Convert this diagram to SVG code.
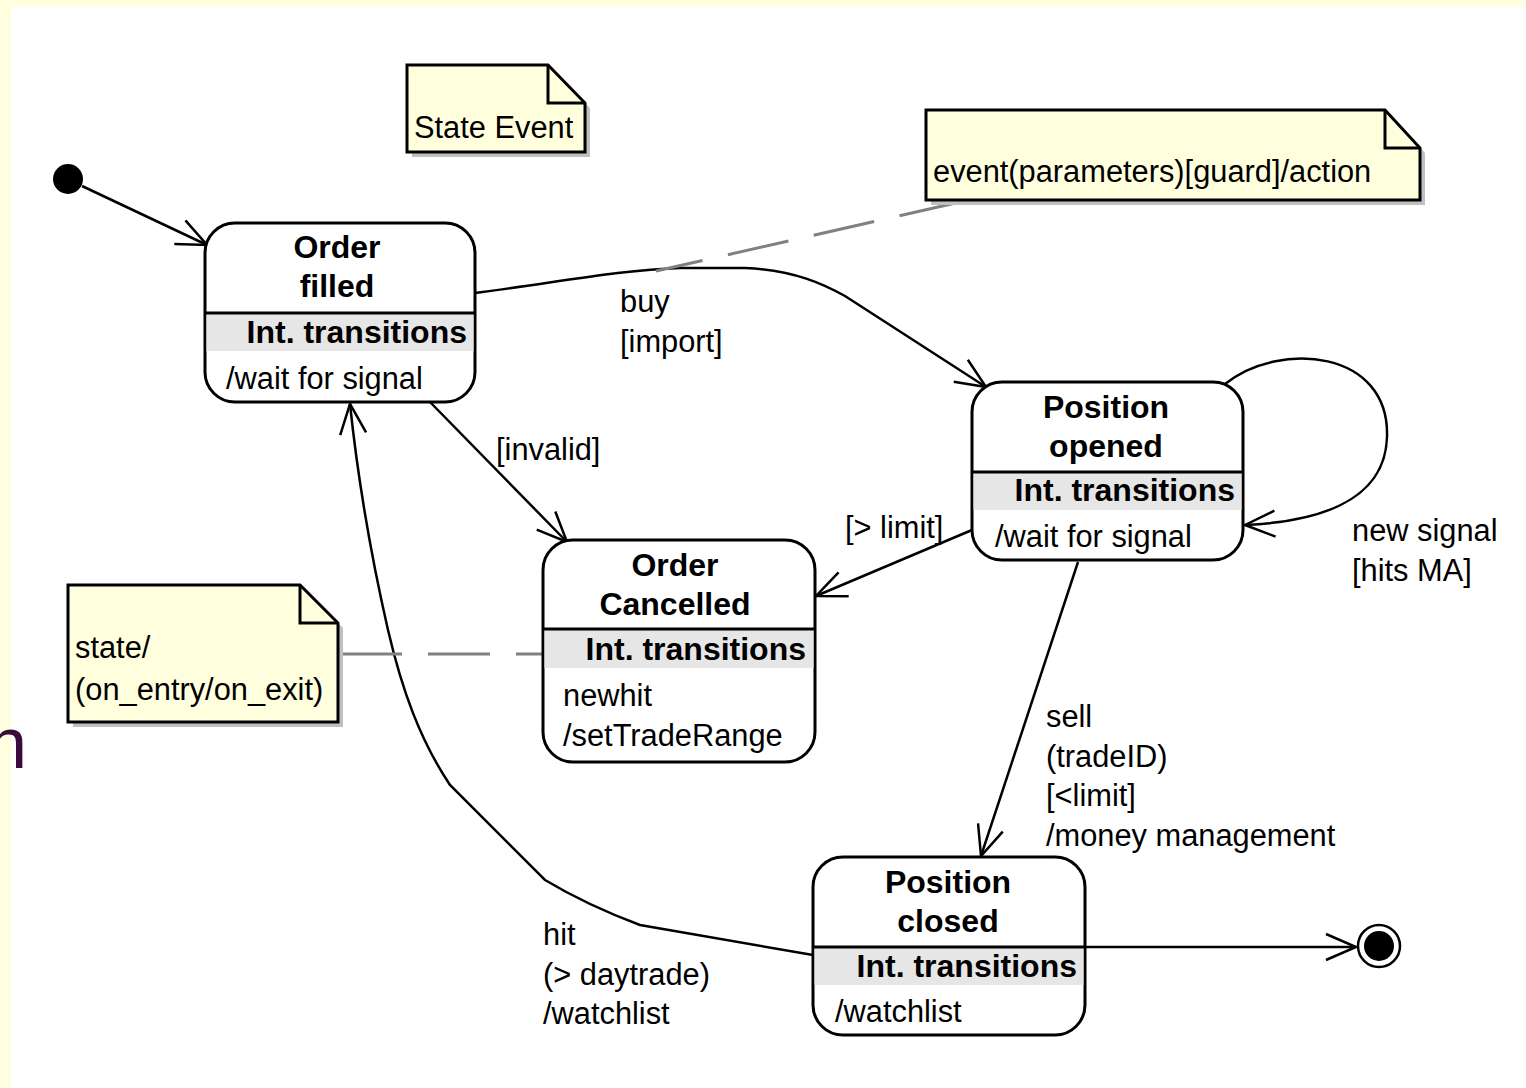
<svg xmlns="http://www.w3.org/2000/svg" width="1526" height="1088" viewBox="0 0 1526 1088">
<style>
.t{font-family:"Liberation Sans",Arial,sans-serif;font-size:30.8px;fill:#000}
.b{font-family:"Liberation Sans",Arial,sans-serif;font-size:32px;font-weight:bold;fill:#000}
.box{fill:#fff;stroke:#000;stroke-width:3}
.band{fill:#e6e6e6}
.div{stroke:#000;stroke-width:3}
.note{fill:#ffffde;stroke:#000;stroke-width:3}
.shadow{fill:#c0c0c0}
.fold{fill:none;stroke:#000;stroke-width:3}
.c{fill:none;stroke:#000;stroke-width:2.5}
.d{fill:none;stroke:#808080;stroke-width:3;stroke-dasharray:62 26}
</style>
<defs>
<marker id="a" markerUnits="userSpaceOnUse" markerWidth="40" markerHeight="40" viewBox="-34 -20 40 40" refX="0" refY="0" orient="auto">
<path d="M-30,-13 L0,0 L-30,13" fill="none" stroke="#000" stroke-width="2.5"/>
</marker>
</defs>
<rect x="0" y="0" width="1526" height="1088" fill="#ffffe0"/>
<rect x="11" y="7" width="1515" height="1081" fill="#fff"/>

<g id="connectors">
<line class="c" x1="82" y1="186" x2="207" y2="245" marker-end="url(#a)"/>
<path class="c" d="M475,293 C560,282 620,270 680,268 L745,268 C795,270 825,285 845,296 L986,387" marker-end="url(#a)"/>
<line class="c" x1="430" y1="402" x2="567" y2="542" marker-end="url(#a)"/>
<path class="c" d="M813,955 L640,925 C600,910 570,895 545,880 L450,785 C420,740 402,690 388,630 C372,560 358,480 350,404" marker-end="url(#a)"/>
<line class="c" x1="972" y1="530" x2="816" y2="596" marker-end="url(#a)"/>
<line class="c" x1="1078" y1="562" x2="981" y2="856" marker-end="url(#a)"/>
<path class="c" d="M1225,384 C1280,340 1390,350 1387,437 C1385,505 1310,522 1245,525" marker-end="url(#a)"/>
<line class="c" x1="1085" y1="947" x2="1356" y2="947" marker-end="url(#a)"/>
<line class="d" x1="960" y1="202" x2="656" y2="271"/>
<line class="d" x1="340" y1="654" x2="543" y2="654"/>
</g>

<g id="labels">
<text class="t" x="620" y="312">buy</text>
<text class="t" x="620" y="352">[import]</text>
<text class="t" x="496" y="460">[invalid]</text>
<text class="t" x="845" y="538">[&gt; limit]</text>
<text class="t" x="1352" y="541">new signal</text>
<text class="t" x="1352" y="581">[hits MA]</text>
<text class="t" x="1046" y="727">sell</text>
<text class="t" x="1046" y="767">(tradeID)</text>
<text class="t" x="1046" y="806">[&lt;limit]</text>
<text class="t" x="1046" y="846">/money management</text>
<text class="t" x="543" y="945">hit</text>
<text class="t" x="543" y="985">(&gt; daytrade)</text>
<text class="t" x="543" y="1024">/watchlist</text>
</g>

<g id="initial"><circle cx="68" cy="179" r="15" fill="#000"/></g>

<g id="final">
<circle cx="1379" cy="946" r="21" fill="#fff" stroke="#000" stroke-width="2.5"/>
<circle cx="1379" cy="946" r="15" fill="#000"/>
</g>

<g id="order-filled">
<rect class="box" x="205" y="223" width="270" height="179" rx="30"/>
<rect class="band" x="206.5" y="314" width="267" height="37"/>
<line class="div" x1="205" y1="313" x2="475" y2="313"/>
<text class="b" x="337" y="258" text-anchor="middle">Order</text>
<text class="b" x="337" y="297" text-anchor="middle">filled</text>
<text class="b" x="467" y="343" text-anchor="end">Int. transitions</text>
<text class="t" x="226" y="389">/wait for signal</text>
</g>

<g id="position-opened">
<rect class="box" x="972" y="382" width="271" height="178" rx="30"/>
<rect class="band" x="973.5" y="473" width="268" height="37"/>
<line class="div" x1="972" y1="472" x2="1243" y2="472"/>
<text class="b" x="1106" y="418" text-anchor="middle">Position</text>
<text class="b" x="1106" y="457" text-anchor="middle">opened</text>
<text class="b" x="1235" y="501" text-anchor="end">Int. transitions</text>
<text class="t" x="995" y="547">/wait for signal</text>
</g>

<g id="order-cancelled">
<rect class="box" x="543" y="540" width="272" height="222" rx="30"/>
<rect class="band" x="544.5" y="630" width="269" height="38"/>
<line class="div" x1="543" y1="629" x2="815" y2="629"/>
<text class="b" x="675" y="576" text-anchor="middle">Order</text>
<text class="b" x="675" y="615" text-anchor="middle">Cancelled</text>
<text class="b" x="806" y="660" text-anchor="end">Int. transitions</text>
<text class="t" x="563" y="706">newhit</text>
<text class="t" x="563" y="746">/setTradeRange</text>
</g>

<g id="position-closed">
<rect class="box" x="813" y="857" width="272" height="178" rx="30"/>
<rect class="band" x="814.5" y="948" width="269" height="37"/>
<line class="div" x1="813" y1="947" x2="1085" y2="947"/>
<text class="b" x="948" y="893" text-anchor="middle">Position</text>
<text class="b" x="948" y="932" text-anchor="middle">closed</text>
<text class="b" x="1077" y="977" text-anchor="end">Int. transitions</text>
<text class="t" x="835" y="1022">/watchlist</text>
</g>

<g id="note-state-event">
<path class="shadow" d="M412,70 H553 L590,108 V157 H412 Z"/>
<path class="note" d="M407,65 H548 L585,103 V152 H407 Z"/>
<path class="fold" d="M548,65 V103 H585"/>
<text class="t" x="414" y="138">State Event</text>
</g>

<g id="note-event">
<path class="shadow" d="M931,115 H1390 L1425,153 V205 H931 Z"/>
<path class="note" d="M926,110 H1385 L1420,148 V200 H926 Z"/>
<path class="fold" d="M1385,110 V148 H1420"/>
<text class="t" x="933" y="182">event(parameters)[guard]/action</text>
</g>

<g id="note-state">
<path class="shadow" d="M73,590 H305 L343,628 V727 H73 Z"/>
<path class="note" d="M68,585 H300 L338,623 V722 H68 Z"/>
<path class="fold" d="M300,585 V623 H338"/>
<text class="t" x="75" y="658">state/</text>
<text class="t" x="75" y="700">(on_entry/on_exit)</text>
</g>

<text x="-13" y="768" font-family="'Liberation Sans',Arial,sans-serif" font-size="72" fill="#3b0b3b">n</text>
</svg>
